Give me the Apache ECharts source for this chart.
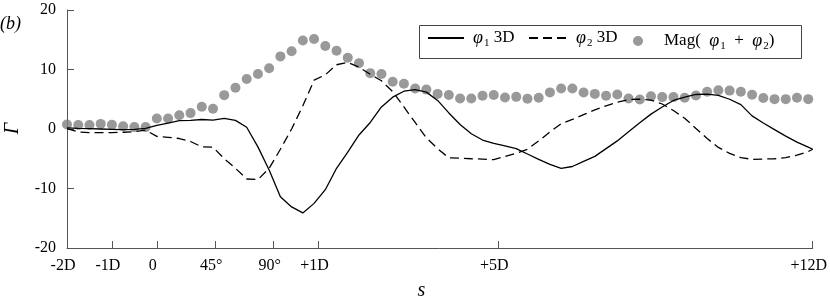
<!DOCTYPE html>
<html>
<head>
<meta charset="utf-8">
<script src="https://cdn.jsdelivr.net/npm/echarts@6/dist/echarts.min.js"></script>
<style>html,body{margin:0;padding:0;background:#fff;}#c{width:830px;height:304px;}</style>
</head>
<body>
<div id="c"></div>
<script>
// station positions along s (in D units; bend 0..+1D mapped onto the axis)
var stations = [-2,-1.75,-1.5,-1.25,-1,-0.75,-0.5,-0.25,0,0.25,0.5,0.75,1,1.25,1.5,1.75,2,2.25,2.5,2.75,3,3.25,3.5,3.75,4,4.25,4.5,4.75,5,5.25,5.5,5.75,6,6.25,6.5,6.75,7,7.25,7.5,7.75,8,8.25,8.5,8.75,9,9.25,9.5,9.75,10,10.25,10.5,10.75,11,11.25,11.5,11.75,12,12.25,12.5,12.75,13,13.25,13.5,13.75,14,14.25,14.5];
var lineS = stations.concat([14.6]);

var mag = [0.77,0.66,0.66,0.86,0.7,0.46,0.32,0.32,1.75,1.75,2.3,2.67,3.75,3.4,5.69,6.93,8.4,9.25,10.2,12.2,13.08,14.88,15.12,13.95,13.15,11.97,11.07,9.39,9.23,7.94,7.6,6.82,6.62,5.9,5.72,5.14,5.14,5.59,5.72,5.3,5.4,5.1,5.25,6.15,6.8,6.8,6.12,5.9,5.59,5.81,5.14,4.95,5.5,5.36,5.36,5.26,5.62,6.25,6.5,6.45,6.26,5.75,5.2,5.02,5.02,5.26,5.02];

var phi1 = [0.2,0.1,0.05,0.0,-0.05,-0.1,-0.05,0.1,0.6,1.0,1.4,1.45,1.6,1.5,1.8,1.45,0.3,-3.0,-6.9,-11.4,-13.1,-14.1,-12.5,-10.2,-6.6,-3.9,-1.0,1.1,3.7,5.35,6.35,6.6,6.2,4.8,2.7,0.75,-0.8,-1.85,-2.4,-2.85,-3.3,-4.2,-5.1,-5.95,-6.6,-6.3,-5.45,-4.6,-3.3,-2.0,-0.45,1.05,2.5,3.7,4.8,5.35,5.8,5.85,5.65,5.0,4.1,2.2,1.0,-0.1,-1.2,-2.2,-3.05,-3.4];

var phi2 = [0.05,-0.5,-0.6,-0.6,-0.6,-0.55,-0.45,-0.2,-1.25,-1.4,-1.6,-2.1,-3.0,-3.05,-5.0,-6.6,-8.4,-8.5,-6.6,-3.4,0.0,3.9,8.2,9.1,10.8,11.2,10.4,9.2,8.1,6.3,3.7,1.1,-1.5,-3.3,-4.85,-4.9,-5.0,-5.05,-5.15,-4.6,-4.1,-3.4,-2.0,-0.5,0.9,1.6,2.4,3.2,3.9,4.5,4.95,5.0,4.85,4.2,3.1,1.8,0.1,-1.6,-3.1,-4.1,-4.8,-5.1,-5.05,-5.0,-4.8,-4.4,-3.8,-3.4];

var tickVals = [-2,-1,0,1.3,2.6,3.6,7.6,14.6];
var tickNames = ['-2D','-1D','0','45°','90°','+1D','+5D','+12D'];
var yTicks = [-20,-10,0,10,20];

function pairs(xs, ys){ return ys.map(function(v,i){ return [xs[i], v]; }); }

var SERIF = '"Liberation Serif", "Times New Roman", serif';
var richStyles = {
  t: {fontFamily: SERIF, fontSize: 17, color: '#000', lineHeight: 22},
  i: {fontFamily: SERIF, fontSize: 18, fontStyle: 'italic', color: '#000', lineHeight: 22},
  ip: {fontFamily: SERIF, fontSize: 18, fontStyle: 'italic', color: '#000', lineHeight: 22, padding: [0,0,0,4]},
  sub: {fontFamily: SERIF, fontSize: 11, color: '#000', lineHeight: 12, verticalAlign: 'bottom', padding: [0,0,0,1]}
};
var hideSym = {color: 'rgba(0,0,0,0)', borderWidth: 0, opacity: 0};

var chart = echarts.init(document.getElementById('c'), null, {renderer: 'canvas'});
chart.setOption({
  animation: false,
  backgroundColor: '#fff',
  grid: {left: 67, right: 17, top: 10, bottom: 56},
  xAxis: {
    type: 'value', min: -2, max: 14.6,
    axisLine: {show: true, onZero: false, lineStyle: {color: '#555', width: 1}},
    axisTick: {show: true, inside: true, length: 7, customValues: tickVals, lineStyle: {color: '#555'}},
    axisLabel: {
      customValues: tickVals,
      formatter: function(v){
        for (var k = 0; k < tickVals.length; k++) if (Math.abs(v - tickVals[k]) < 1e-6) return tickNames[k];
        return '';
      },
      fontFamily: SERIF, fontSize: 16, color: '#000', margin: 10, padding: [0,8,0,0]
    },
    splitLine: {show: false}
  },
  yAxis: {
    type: 'value', min: -20, max: 20, interval: 10,
    axisLine: {show: true, onZero: false, lineStyle: {color: '#555', width: 1}},
    axisTick: {show: true, inside: true, length: 7, lineStyle: {color: '#555'}},
    axisLabel: {fontFamily: SERIF, fontSize: 16, color: '#000', margin: 11,
      formatter: function(v){ return yTicks.indexOf(v) >= 0 ? String(v) : ''; }},
    splitLine: {show: false}
  },
  legend: [
    {left: 427, top: 29, padding: 0, itemWidth: 36, itemHeight: 10, data: ['phi1'], itemStyle: hideSym,
     formatter: function(){ return '{ip|φ}{sub|1}{t| 3D}'; },
     textStyle: {rich: richStyles}},
    {left: 528, top: 29, padding: 0, itemWidth: 42, itemHeight: 10, data: ['phi2'], itemStyle: hideSym,
     formatter: function(){ return '{i|φ}{sub|2}{t| 3D}'; },
     textStyle: {rich: richStyles}},
    {left: 633, top: 32, padding: 0, itemWidth: 42, itemHeight: 10, data: ['mag'],
     formatter: function(){ return '{t|Mag(  }{i|φ}{sub|1}{t|  +  }{i|φ}{sub|2}{t|)}'; },
     textStyle: {rich: richStyles}}
  ],
  graphic: [
    {type: 'rect', left: 417, top: 23, z: 100, shape: {width: 382, height: 33},
     style: {fill: 'none', stroke: '#444', lineWidth: 1}},
    {type: 'text', left: 0, top: 15, style: {text: '(b)', font: 'italic 18px "Liberation Serif"', fill: '#000'}},
    {type: 'text', x: 421.5, y: 291, style: {text: 's', font: 'italic 20px "Liberation Serif"', fill: '#000', align: 'center', verticalAlign: 'middle'}},
    {type: 'text', x: 13, y: 128.5, rotation: Math.PI / 2, style: {text: 'Γ', font: 'italic 20px "Liberation Serif"', fill: '#000', align: 'center', verticalAlign: 'middle'}}
  ],
  series: [
    {name: 'mag', type: 'scatter', data: pairs(stations, mag), symbol: 'circle', symbolSize: 10,
     itemStyle: {color: '#808080'}},
    {name: 'phi1', type: 'line', data: pairs(lineS, phi1), symbol: 'none', showSymbol: false,
     lineStyle: {color: '#000', width: 1.3, type: 'solid'}, itemStyle: {color: '#000'}},
    {name: 'phi2', type: 'line', data: pairs(lineS, phi2), symbol: 'none', showSymbol: false,
     lineStyle: {color: '#000', width: 1.3, type: [9, 5]}, itemStyle: {color: '#000'}}
  ]
});
</script>
</body>
</html>
